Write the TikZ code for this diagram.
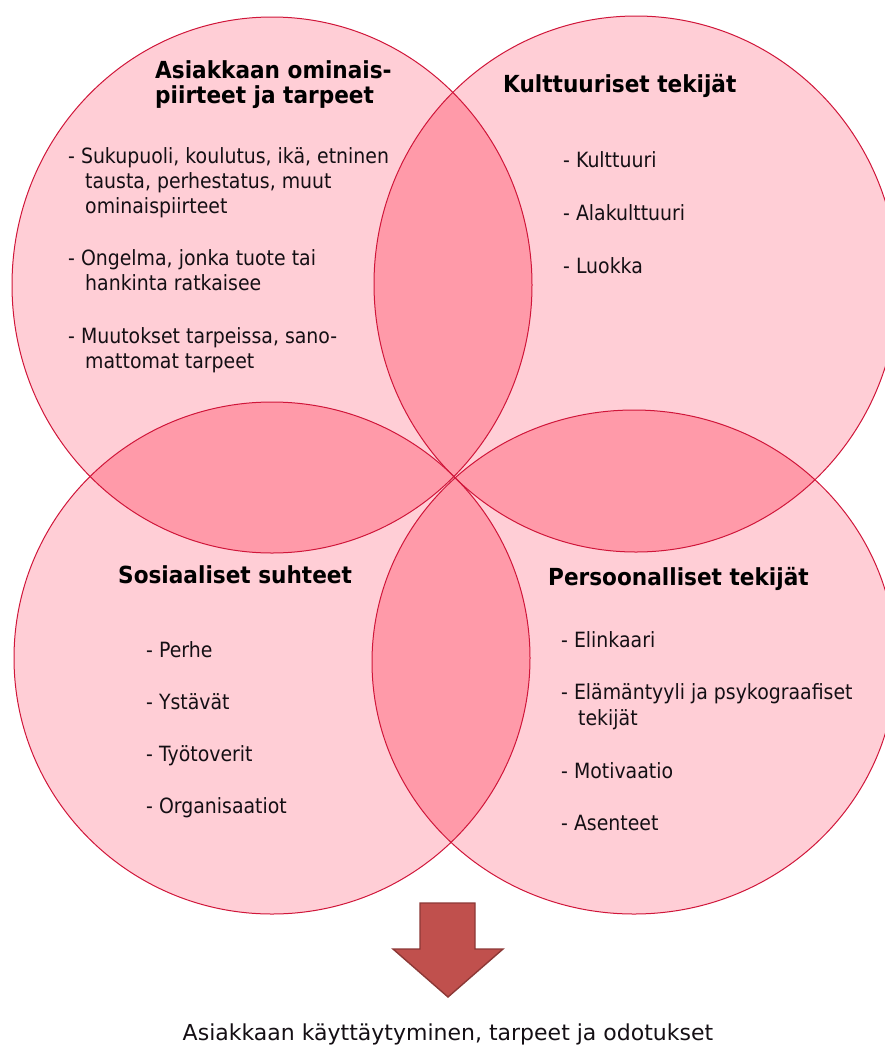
\documentclass[tikz,border=0pt]{standalone}
\usepackage{fontspec}
\setmainfont{DejaVu Sans}
\newfontfamily\tahbody[FakeStretch=0.9]{DejaVu Sans}
\newfontfamily\tahtitle[FakeStretch=0.92]{DejaVu Sans}
\definecolor{pinkA}{RGB}{255,206,214}
\definecolor{pinkB}{RGB}{255,154,169}
\definecolor{edgec}{RGB}{208,22,58}
\definecolor{arrowfill}{RGB}{192,80,77}
\definecolor{arrowedge}{RGB}{140,56,54}
\definecolor{textc}{RGB}{20,15,20}
\begin{document}
\begin{tikzpicture}[x=1pt,y=-1pt,
  txt/.style={anchor=base west,inner sep=0pt,text=textc,font=\tahbody\fontsize{21}{25}\selectfont},
  ttl/.style={anchor=base west,inner sep=0pt,text=black,font=\tahtitle\bfseries\fontsize{23.5}{28}\selectfont},
  bottomtxt/.style={anchor=base,inner sep=0pt,text=textc,font=\fontsize{22}{26}\selectfont},
  ring/.style={draw=edgec,line width=1pt}]
\useasboundingbox (0,0) rectangle (884,1050);
\def\EA{(272,285) ellipse [x radius=260, y radius=268]}
\def\EB{(636,284) ellipse [x radius=262, y radius=268]}
\def\EC{(272,658) ellipse [x radius=258, y radius=256]}
\def\ED{(634,662) ellipse [x radius=262, y radius=252]}
% base fills
\fill[pinkA] \EA; \fill[pinkA] \EB; \fill[pinkA] \EC; \fill[pinkA] \ED;
% overlaps
\begin{scope}\clip \EA; \fill[pinkB] \EB; \fill[pinkB] \EC; \fill[pinkB] \ED; \end{scope}
\begin{scope}\clip \EB; \fill[pinkB] \ED; \fill[pinkB] \EC; \end{scope}
\begin{scope}\clip \EC; \fill[pinkB] \ED; \end{scope}
% outlines
\draw[ring] \EA; \draw[ring] \EB; \draw[ring] \EC; \draw[ring] \ED;
% titles
\node[ttl] (t1a) at (155,78) {Asiakkaan ominais-};
\node[ttl] (t1b) at (155,103) {piirteet ja tarpeet};
\node[ttl] (t2) at (503,92) {Kulttuuriset tekijät};
\node[ttl] (t3) at (118,583) {Sosiaaliset suhteet};
\node[ttl] (t4) at (548,585) {Persoonalliset tekijät};
% circle 1 items
\node[txt] (a1) at (68,163) {- Sukupuoli, koulutus, ikä, etninen};
\node[txt] (a1b) at (85,188) {tausta, perhestatus, muut};
\node[txt] (a1c) at (85,213) {ominaispiirteet};
\node[txt] (a2) at (68,265) {- Ongelma, jonka tuote tai};
\node[txt] (a2b) at (85,290) {hankinta ratkaisee};
\node[txt] (a3) at (68,343) {- Muutokset tarpeissa, sano-};
\node[txt] (a3b) at (85,368) {mattomat tarpeet};
% circle 2 items
\node[txt] (b1) at (563,167) {- Kulttuuri};
\node[txt] (b2) at (563,220) {- Alakulttuuri};
\node[txt] (b3) at (563,273) {- Luokka};
% circle 3 items
\node[txt] (c1) at (146,657) {- Perhe};
\node[txt] (c2) at (146,709) {- Ystävät};
\node[txt] (c3) at (146,761) {- Työtoverit};
\node[txt] (c4) at (146,813) {- Organisaatiot};
% circle 4 items
\node[txt] (d1) at (561,647) {- Elinkaari};
\node[txt] (d2) at (561,699) {- Elämäntyyli ja psykograafiset};
\node[txt] (d2b) at (578,725) {tekijät};
\node[txt] (d3) at (561,778) {- Motivaatio};
\node[txt] (d4) at (561,830) {- Asenteet};
% arrow
\filldraw[fill=arrowfill,draw=arrowedge,line width=1.4pt,line join=miter]
  (420,903) -- (475,903) -- (475,949) -- (503,949) -- (448,997) -- (393,949) -- (420,949) -- cycle;
% bottom text
\node[bottomtxt] (res) at (448,1040) {Asiakkaan käyttäytyminen, tarpeet ja odotukset};
\end{tikzpicture}
\end{document}
